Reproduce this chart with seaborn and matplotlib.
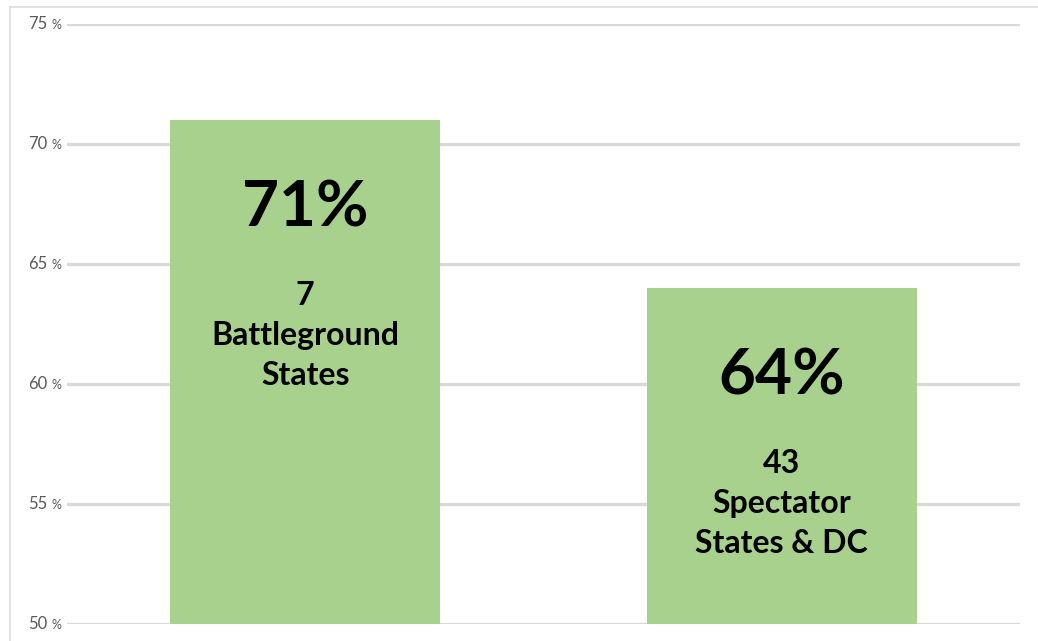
import numpy as np
import pandas as pd
import seaborn as sns
import matplotlib.pyplot as plt

# Chart data
groups = ["7\nBattleground\nStates", "43\nSpectator\nStates & DC"]
turnout = [71, 64]
y_ticks = [50, 55, 60, 65, 70, 75]

df = pd.DataFrame({"group": groups, "turnout": turnout})

sns.set_theme(style="white")
plt.rcParams['font.family'] = ['Lato', 'DejaVu Sans']

W, H = 1038, 641
fig = plt.figure(figsize=(W / 100, H / 100), dpi=100)

# ruler-like frame on the left / top edge
fa = fig.add_axes([10 / W, 0, 1 - 10 / W, 1 - 7 / H])
fa.patch.set_alpha(0)
fa.set_xlim(0, 1)
fa.set_ylim(634, 0)
for s in ["right", "bottom"]:
    fa.spines[s].set_visible(False)
for s in ["left", "top"]:
    fa.spines[s].set_color("#dcdcdc")
    fa.spines[s].set_linewidth(1.2)
fa.set_xticks([])
fa.set_yticks(np.arange(31, 634, 35.7))
fa.tick_params(axis="y", direction="in", length=3, width=0.8, color="#dcdcdc", labelleft=False)

ax = fig.add_axes([67 / W, 1 - 624 / H, (1020 - 67) / W, (624 - 24) / H])
ax.patch.set_alpha(0)
sns.barplot(data=df, x="group", y="turnout", color="#a9d18e", saturation=1,
            width=0.567, linewidth=0, ax=ax, zorder=3)
ax.set_xlim(-0.5, 1.5)
ax.set_ylim(50, 75)
ax.set_yticks(y_ticks)
ax.grid(axis="y", color="#d9d9d9", linewidth=2.4, zorder=0)
ax.set_axisbelow(True)
for s in ax.spines.values():
    s.set_visible(False)
ax.set_xlabel("")
ax.set_ylabel("")
ax.set_xticks([])
ax.tick_params(axis="y", length=0, labelleft=False)

# tick labels with a small percent sign
for v in y_ticks:
    ax.annotate(str(v), xy=(0, v), xycoords=ax.get_yaxis_transform(),
                xytext=(-20, 0), textcoords="offset pixels",
                ha="right", va="center", fontsize=12, color="#595959")
    ax.annotate("%", xy=(0, v), xycoords=ax.get_yaxis_transform(),
                xytext=(-6, -1), textcoords="offset pixels",
                ha="right", va="center", fontsize=9, color="#595959")

# values and group names inside the bars
for i, (g, t) in enumerate(zip(groups, turnout)):
    ax.annotate(f"{t}%", xy=(i, t), xytext=(0, -88), textcoords="offset pixels",
                ha="center", va="center", fontsize=46, fontweight="bold", color="black")
    ax.annotate(g, xy=(i, t), xytext=(0, -161), textcoords="offset pixels",
                ha="center", va="top", fontsize=23, fontweight="bold", color="black",
                linespacing=1.46)

fig.savefig("out.png", dpi=100)
